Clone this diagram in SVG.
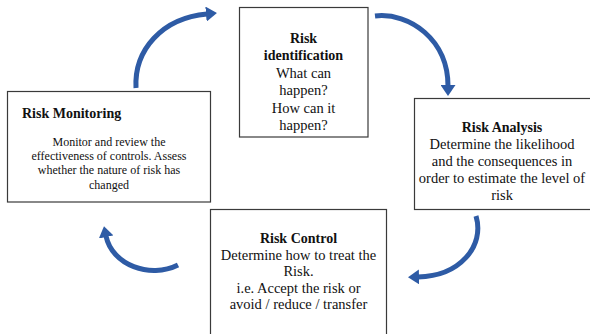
<svg xmlns="http://www.w3.org/2000/svg" width="590" height="334" viewBox="0 0 590 334">
<style>
.box{fill:#fff;stroke:#3a3a3a;stroke-width:1.2}
text{font-family:'Liberation Serif','DejaVu Serif',serif;fill:#111}
.title{font-weight:bold;font-size:14px}
.body{font-size:14.5px}
.small{font-size:12px}
.c{text-anchor:middle}
.arc{fill:none;stroke:#2E5BA5;stroke-width:5;stroke-linecap:butt;marker-end:url(#head)}
</style>
<defs>
<marker id="head" markerUnits="userSpaceOnUse" viewBox="0 0 11 15" refX="1" refY="7.5" markerWidth="11" markerHeight="15" orient="auto">
<path d="M0,0 L11,7.5 L0,15 z" fill="#2E5BA5"/>
</marker>
</defs>
<rect width="590" height="334" fill="#fff"/>
<g id="connectors">
<path class="arc" d="M136,88 C134,50 162,18 207,14"/>
<path class="arc" d="M375,16 C410,12 448,40 448,86"/>
<path class="arc" d="M476,216 C485,246 460,276 418,277"/>
<path class="arc" d="M178,265 C150,279 112,265 106,236"/>
</g>
<g id="risk-monitoring">
<rect class="box" x="7.5" y="91.5" width="203" height="110.5"/>
<text class="title" x="22" y="118" font-family="Liberation Serif, serif">Risk Monitoring</text>
<text class="small c" x="109" y="146">Monitor and review the</text>
<text class="small c" x="109" y="160">effectiveness of controls. Assess</text>
<text class="small c" x="109" y="174">whether the nature of risk has</text>
<text class="small c" x="109" y="189">changed</text>
</g>
<g id="risk-identification">
<rect class="box" x="239.5" y="7.5" width="128.5" height="129.5"/>
<text class="title c" x="303.5" y="42.5">Risk</text>
<text class="title c" x="303.5" y="60">identification</text>
<text class="body c" x="303.5" y="77.5">What can</text>
<text class="body c" x="303.5" y="95">happen?</text>
<text class="body c" x="303.5" y="112.5">How can it</text>
<text class="body c" x="303.5" y="130">happen?</text>
</g>
<g id="risk-analysis">
<rect class="box" x="414.5" y="98.5" width="180" height="111"/>
<text class="title c" x="502" y="131.5">Risk Analysis</text>
<text class="body c" x="502" y="149">Determine the likelihood</text>
<text class="body c" x="502" y="166">and the consequences in</text>
<text class="body c" x="502" y="183">order to estimate the level of</text>
<text class="body c" x="502" y="200">risk</text>
</g>
<g id="risk-control">
<rect class="box" x="210.5" y="209.5" width="176" height="140"/>
<text class="title c" x="298.5" y="243">Risk Control</text>
<text class="body c" x="298.5" y="259.5">Determine how to treat the</text>
<text class="body c" x="298.5" y="276">Risk.</text>
<text class="body c" x="298.5" y="292.5">i.e. Accept the risk or</text>
<text class="body c" x="298.5" y="309">avoid / reduce / transfer</text>
</g>
</svg>
